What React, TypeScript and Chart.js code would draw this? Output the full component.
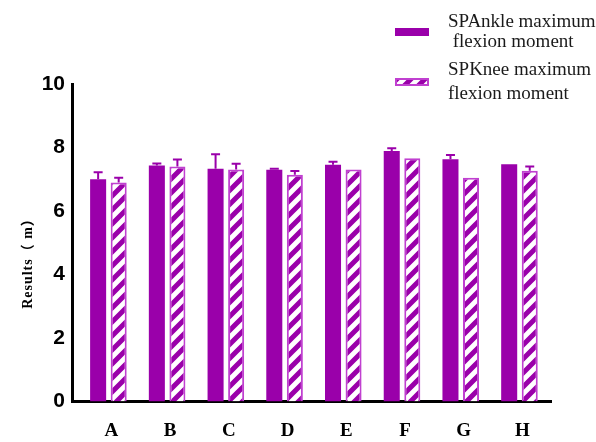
import React, { useEffect, useRef } from 'react';
import { Chart, registerables } from 'chart.js';

Chart.register(...registerables);

const CATEGORIES = ['A', 'B', 'C', 'D', 'E', 'F', 'G', 'H'];
const ANKLE = [7.0, 7.43, 7.33, 7.3, 7.46, 7.89, 7.63, 7.47];
const ANKLE_ERR = [0.22, 0.07, 0.46, 0.03, 0.09, 0.09, 0.13, 0];
const KNEE = [6.9, 7.4, 7.31, 7.14, 7.31, 7.66, 7.05, 7.27];
const KNEE_ERR = [0.15, 0.22, 0.18, 0.12, 0, 0, 0, 0.13];
const Y_TICKS = [0, 2, 4, 6, 8, 10];
const LEGEND_ANKLE = ['SPAnkle maximum', ' flexion moment'];
const LEGEND_KNEE = ['SPKnee maximum', 'flexion moment'];
const Y_TITLE = 'Results（ m）';

const PURPLE = '#9a00aa';
const BORDER = '#c040d0';
const SERIF = '"Liberation Serif", "Times New Roman", "Noto Sans CJK SC", serif';

function makePattern(ctx: CanvasRenderingContext2D) {
  const s = 14;
  const c = document.createElement('canvas');
  c.width = s;
  c.height = s;
  const g = c.getContext('2d')!;
  g.fillStyle = '#ffffff';
  g.fillRect(0, 0, s, s);
  g.strokeStyle = PURPLE;
  g.lineWidth = 5;
  g.beginPath();
  g.moveTo(-3, 3);
  g.lineTo(3, -3);
  g.moveTo(-3, s + 3);
  g.lineTo(s + 3, -3);
  g.moveTo(s - 3, s + 3);
  g.lineTo(s + 3, s - 3);
  g.stroke();
  return ctx.createPattern(c, 'repeat')!;
}

export default function App() {
  const ref = useRef<HTMLCanvasElement>(null);

  useEffect(() => {
    const canvas = ref.current!;
    const ctx = canvas.getContext('2d')!;
    const pattern = makePattern(ctx);

    const errorBars = {
      id: 'errorBars',
      afterDatasetsDraw(chart: any) {
        const c = chart.ctx;
        const y = chart.scales.y;
        [ANKLE_ERR, KNEE_ERR].forEach((errs, di) => {
          const vals = di === 0 ? ANKLE : KNEE;
          const meta = chart.getDatasetMeta(di);
          meta.data.forEach((bar: any, i: number) => {
            const e = errs[i];
            if (!e) return;
            const top = y.getPixelForValue(vals[i] + e);
            c.save();
            c.strokeStyle = PURPLE;
            c.lineWidth = 2;
            c.beginPath();
            c.moveTo(bar.x, bar.y);
            c.lineTo(bar.x, top);
            c.moveTo(bar.x - 4.5, top);
            c.lineTo(bar.x + 4.5, top);
            c.stroke();
            c.restore();
          });
        });
      },
    };

    const decorations = {
      id: 'decorations',
      afterDraw(chart: any) {
        const c = chart.ctx;
        c.save();
        // legend
        c.fillStyle = PURPLE;
        c.fillRect(395, 28, 34, 8);
        c.fillStyle = pattern;
        c.fillRect(395, 78, 34, 8);
        c.strokeStyle = BORDER;
        c.lineWidth = 2;
        c.strokeRect(396, 79, 32, 6);
        c.fillStyle = '#1a1a1a';
        c.font = `19px ${SERIF}`;
        c.textAlign = 'left';
        c.textBaseline = 'alphabetic';
        c.fillText(LEGEND_ANKLE[0], 448, 27);
        c.fillText(LEGEND_ANKLE[1], 448, 47);
        c.fillText(LEGEND_KNEE[0], 448, 75);
        c.fillText(LEGEND_KNEE[1], 448, 99);
        // y title
        c.translate(28, 260);
        c.rotate(-Math.PI / 2);
        c.font = `bold 14px ${SERIF}`;
        (c as any).letterSpacing = '1px';
        c.fillStyle = '#000';
        c.textAlign = 'center';
        c.textBaseline = 'middle';
        c.fillText(Y_TITLE, 0, 0);
        c.restore();
      },
    };

    const chart = new Chart(canvas, {
      type: 'bar',
      data: {
        datasets: [
          {
            label: LEGEND_ANKLE.join(' '),
            data: ANKLE.map((v, i) => ({ x: i, y: v })),
            backgroundColor: PURPLE,
            borderWidth: 0,
          },
          {
            label: LEGEND_KNEE.join(' '),
            data: KNEE.map((v, i) => ({ x: i, y: v })),
            backgroundColor: pattern,
            borderColor: BORDER,
            borderWidth: 2,
          },
        ],
      } as any,
      options: {
        animation: false,
        responsive: false,
        layout: { padding: { top: 84, right: 46, left: 0, bottom: 0 } },
        plugins: { legend: { display: false }, tooltip: { enabled: false } },
        datasets: { bar: { categoryPercentage: 0.7, barPercentage: 0.78 } },
        scales: {
          x: {
            type: 'linear',
            min: -0.62,
            max: 7.52,
            offset: false,
            grid: { display: false, drawTicks: false, lineWidth: 3 },
            border: { display: true, color: '#000', width: 3 },
            afterBuildTicks: (s: any) => {
              s.ticks = CATEGORIES.map((_, i) => ({ value: i }));
            },
            afterFit: (s: any) => {
              s.height = 40.5;
            },
            ticks: {
              autoSkip: false,
              maxRotation: 0,
              padding: 18,
              labelOffset: 3,
              color: '#000',
              font: { family: SERIF, size: 19, weight: 'bold' },
              callback: (v: any) => CATEGORIES[v] ?? '',
            },
          },
          y: {
            min: 0,
            max: 10,
            afterBuildTicks: (s: any) => {
              s.ticks = Y_TICKS.map((v) => ({ value: v }));
            },
            afterFit: (s: any) => {
              s.width = 72;
            },
            grid: { display: false, drawTicks: false },
            border: { display: true, color: '#000', width: 3 },
            ticks: {
              padding: 7,
              color: '#000',
              font: { family: '"Liberation Sans", Arial, sans-serif', size: 21, weight: 'bold' },
            },
          },
        },
      } as any,
      plugins: [errorBars, decorations],
    });
    return () => chart.destroy();
  }, []);

  return (
    <div style={{ position: 'absolute', left: 0, top: 0, width: 596, height: 442, background: '#fff' }}>
      <canvas ref={ref} width={596} height={442} style={{ display: 'block' }} />
    </div>
  );
}
